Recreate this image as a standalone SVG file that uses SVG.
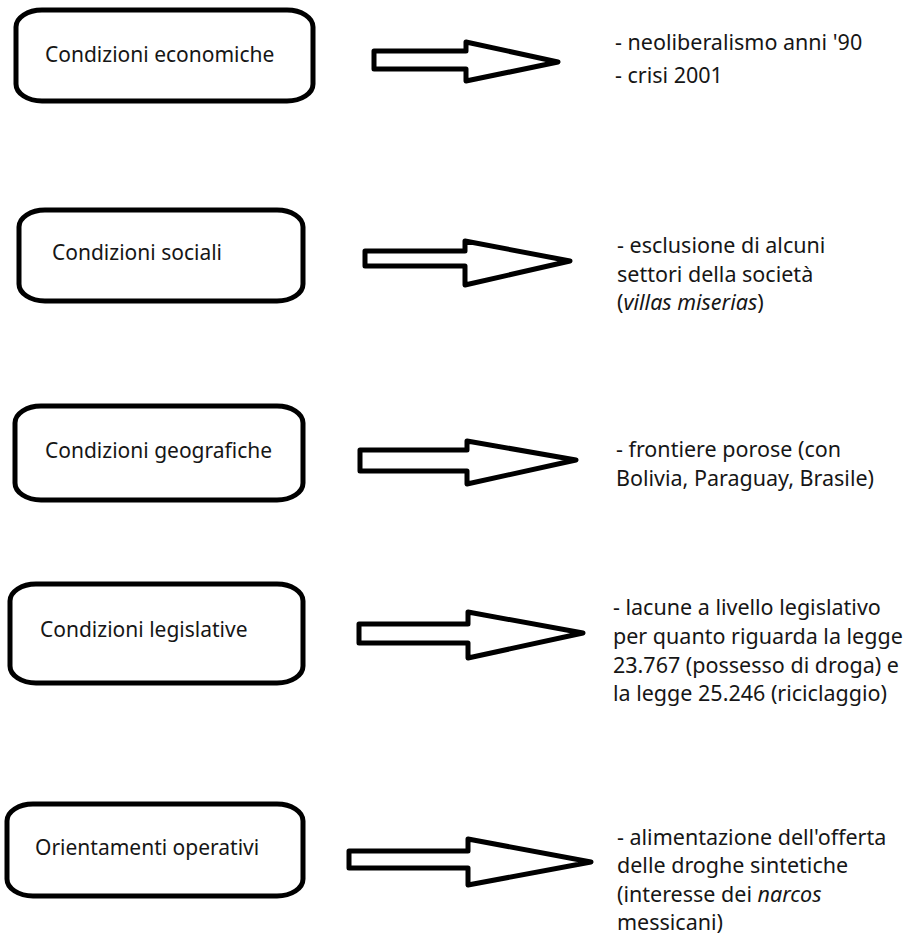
<svg xmlns="http://www.w3.org/2000/svg" width="911" height="942" viewBox="0 0 911 942">
<style>
.box{fill:#fff;stroke:#000;stroke-width:5}
.arr{fill:#fff;stroke:#000;stroke-width:5;stroke-linejoin:round}
text{font-family:"Noto Sans","Open Sans",sans-serif;font-size:21.5px;fill:#161616}
.lb{font-size:21px}
.it{font-style:italic}
</style>
<rect width="911" height="942" fill="#fff"/>
<g id="n1"><rect class="box" x="16" y="10" width="297" height="91" rx="26" ry="17"/><text class="lb" x="45" y="62">Condizioni economiche</text></g>
<g id="n2"><rect class="box" x="19" y="210" width="284" height="91" rx="26" ry="17"/><text class="lb" x="52" y="260">Condizioni sociali</text></g>
<g id="n3"><rect class="box" x="15" y="406" width="288" height="94" rx="26" ry="17"/><text class="lb" x="45" y="458">Condizioni geografiche</text></g>
<g id="n4"><rect class="box" x="10" y="584" width="293" height="99" rx="26" ry="17"/><text class="lb" x="40" y="637">Condizioni legislative</text></g>
<g id="n5"><rect class="box" x="7" y="804" width="296" height="92" rx="26" ry="17"/><text class="lb" x="35" y="855">Orientamenti operativi</text></g>
<g id="connectors">
<polygon class="arr" points="374,51 466,51 466,42 558,62 466,81 466,69 374,69"/>
<polygon class="arr" points="365,251 465,251 465,241 570,261 465,285 465,266 365,266"/>
<polygon class="arr" points="360,450 467,450 467,441 576,460 467,484 467,471 360,471"/>
<polygon class="arr" points="359,624 468,624 468,612 583,633 468,658 468,643 359,643"/>
<polygon class="arr" points="349,851 468,851 468,839 591,862 468,885 468,868 349,868"/>
</g>
<g id="t1"><text x="615" y="50">- neoliberalismo anni '90</text><text x="615" y="83">- crisi 2001</text></g>
<g id="t2"><text x="617" y="253">- esclusione di alcuni</text><text x="617" y="282">settori della società</text><text x="617" y="310">(<tspan class="it">villas miserias</tspan>)</text></g>
<g id="t3"><text x="616" y="457">- frontiere porose (con</text><text x="616" y="486">Bolivia, Paraguay, Brasile)</text></g>
<g id="t4"><text x="613" y="615">- lacune a livello legislativo</text><text x="613" y="644">per quanto riguarda la legge</text><text x="613" y="673">23.767 (possesso di droga) e</text><text x="613" y="701">la legge 25.246 (riciclaggio)</text></g>
<g id="t5"><text x="617" y="845">- alimentazione dell'offerta</text><text x="617" y="873">delle droghe sintetiche</text><text x="617" y="902">(interesse dei <tspan class="it">narcos</tspan></text><text x="617" y="930">messicani)</text></g>
</svg>
